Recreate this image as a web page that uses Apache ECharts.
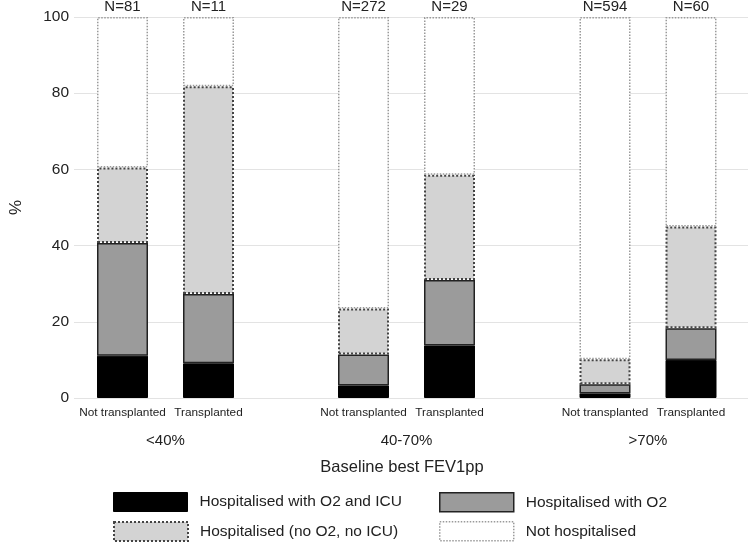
<!DOCTYPE html>
<html>
<head>
<meta charset="utf-8">
<script src="https://cdn.jsdelivr.net/npm/echarts@6/dist/echarts.min.js"></script>
<style>html,body{margin:0;padding:0;background:#fff}#c{width:748px;height:543px}</style>
</head>
<body>
<div id="c"></div>
<script>
// ---- data ----
const groups = ['<40%', '40-70%', '>70%'];
const subgroups = ['Not transplanted', 'Transplanted'];
const nLabels = ['N=81', 'N=11', 'N=272', 'N=29', 'N=594', 'N=60'];
const seriesNames = ['Hospitalised with O2 and ICU', 'Hospitalised with O2', 'Hospitalised (no O2, no ICU)', 'Not hospitalised'];
const icu     = [11.1, 9.1, 3.3, 13.8, 1.2, 10.0];
const o2      = [29.6, 18.2, 8.1, 17.2, 2.4, 8.3];
const noO2    = [19.8, 54.5, 12.1, 27.6, 6.6, 26.7];
const notHosp = [39.5, 18.2, 76.5, 41.4, 89.8, 55.0];
const xTitle = 'Baseline best FEV1pp';
const yTitle = '%';

// ---- styles ----
const FONT = 'Liberation Sans, Arial, sans-serif';
const TXT = '#222';
const styles = [
  {color: '#000000', borderColor: '#000000', borderWidth: 1, borderType: 'solid'},
  {color: '#9b9b9b', borderColor: '#222222', borderWidth: 1.5, borderType: 'solid'},
  {color: '#d3d3d3', borderColor: '#444444', borderWidth: 2, borderType: 'dotted'},
  {color: '#ffffff', borderColor: '#9a9a9a', borderWidth: 1.5, borderType: 'dotted'}
];
const values = [icu, o2, noO2, notHosp];

const grids = [{left: 67, right: 0, top: 17, bottom: 145}];
const groupLefts = [79.5, 320.5, 562];
groupLefts.forEach(l => grids.push({left: l, width: 172, top: 17, bottom: 145}));

const xAxes = [{
  gridIndex: 0, type: 'value', min: 0, max: 1,
  axisLine: {show: false}, axisTick: {show: false}, axisLabel: {show: false}, splitLine: {show: false},
  name: xTitle, nameLocation: 'middle', nameGap: 61,
  nameTextStyle: {fontFamily: FONT, fontSize: 16.5, color: TXT, padding: [0, 18, 0, 0]}
}];
const yAxes = [{
  gridIndex: 0, type: 'value', min: 0, max: 100, interval: 20,
  axisLine: {show: false}, axisTick: {show: false},
  axisLabel: {fontFamily: FONT, fontSize: 15.5, color: TXT, margin: 5},
  splitLine: {lineStyle: {color: '#e3e3e3', width: 1}},
  name: yTitle, nameLocation: 'middle', nameGap: 49,
  nameTextStyle: {fontFamily: FONT, fontSize: 17, color: TXT}
}];
groups.forEach((g, i) => {
  xAxes.push({
    gridIndex: i + 1, type: 'category', data: subgroups,
    axisLine: {show: false}, axisTick: {show: false},
    axisLabel: {fontFamily: FONT, fontSize: 11.8, color: TXT, margin: 9, interval: 0},
    name: g, nameLocation: 'middle', nameGap: 35,
    nameTextStyle: {fontFamily: FONT, fontSize: 15, color: TXT}
  });
  yAxes.push({gridIndex: i + 1, type: 'value', min: 0, max: 100, show: false, splitLine: {show: false}});
});

const series = [];
groups.forEach((g, gi) => {
  seriesNames.forEach((name, si) => {
    const s = {
      name: name, type: 'bar', stack: 'g' + gi,
      xAxisIndex: gi + 1, yAxisIndex: gi + 1,
      barWidth: 51,
      data: values[si].slice(gi * 2, gi * 2 + 2),
      itemStyle: styles[si],
      emphasis: {disabled: true},
      silent: true
    };
    if (si === 3) {
      s.label = {
        show: true, position: 'top', distance: 3,
        fontFamily: FONT, fontSize: 15, color: TXT,
        formatter: p => nLabels[gi * 2 + p.dataIndex]
      };
    }
    series.push(s);
  });
});

const legendPos = [[113, 492], [439, 492], [113, 521], [439, 521]];
const legends = seriesNames.map((name, i) => ({
  left: legendPos[i][0], top: legendPos[i][1],
  data: [{name: name, icon: 'rect'}],
  itemWidth: 74, itemHeight: 19, padding: 0,
  itemStyle: Object.assign({}, styles[i]),
  textStyle: {fontFamily: FONT, fontSize: 15.5, color: TXT, padding: [0, 0, 0, 7]},
  selectedMode: false
}));

const chart = echarts.init(document.getElementById('c'), null, {renderer: 'canvas'});
chart.setOption({
  animation: false,
  backgroundColor: '#fff',
  grid: grids,
  xAxis: xAxes,
  yAxis: yAxes,
  legend: legends,
  series: series
});
</script>
</body>
</html>
